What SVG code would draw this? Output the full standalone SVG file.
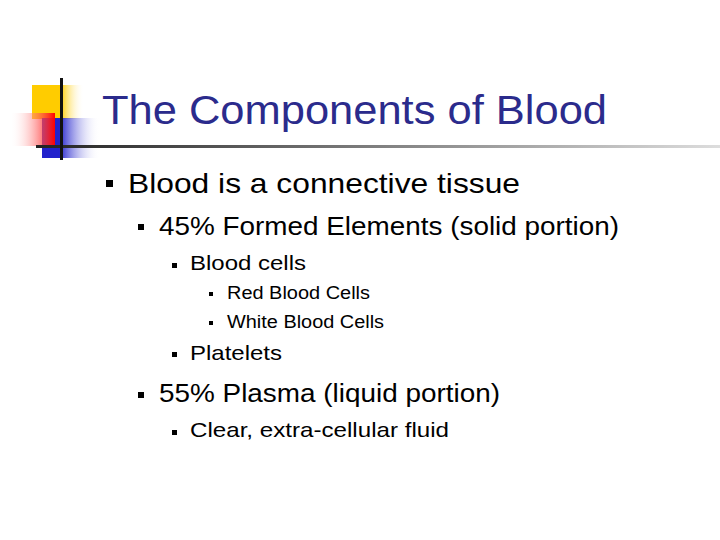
<svg xmlns="http://www.w3.org/2000/svg" width="720" height="540" viewBox="0 0 720 540">
<defs>
<linearGradient id="gy" x1="0" x2="1"><stop offset="0.55" stop-color="#ffcc00"/><stop offset="1" stop-color="#fff" stop-opacity="0"/></linearGradient>
<linearGradient id="gr" x1="0" x2="1"><stop offset="0" stop-color="#fff" stop-opacity="0"/><stop offset="1" stop-color="#ff0000"/></linearGradient>
<linearGradient id="gb" x1="0" x2="1"><stop offset="0.3" stop-color="#2222cc"/><stop offset="1" stop-color="#fff" stop-opacity="0"/></linearGradient>
<linearGradient id="gl" x1="0" x2="1"><stop offset="0" stop-color="#222"/><stop offset="1" stop-color="#ddd"/></linearGradient>
<style>
.t{font-family:"Liberation Sans",Arial,sans-serif;fill:#000}
.b{fill:#000}
</style>
</defs>
<g id="logo">
<rect x="32" y="85" width="52" height="34" fill="url(#gy)"/>
<rect x="42" y="118" width="58" height="40" fill="url(#gb)"/>
<rect x="10" y="113" width="45" height="33" fill="url(#gr)"/>
<rect x="36" y="145" width="684" height="3" fill="url(#gl)"/>
<rect x="60" y="78" width="3" height="82" fill="#111"/>
</g>
<g id="title"><text x="102" y="124" font-family="Liberation Sans,Arial,sans-serif" font-size="41" fill="#2b2b8c" textLength="505" lengthAdjust="spacingAndGlyphs">The Components of Blood</text></g>
<g id="bullets">
<rect class="b" x="106" y="180" width="7" height="7"/>
<text class="t" x="128" y="193" font-size="28" textLength="392" lengthAdjust="spacingAndGlyphs">Blood is a connective tissue</text>
<rect class="b" x="138" y="224" width="6" height="6"/>
<text class="t" x="159" y="235" font-size="25" textLength="460" lengthAdjust="spacingAndGlyphs">45% Formed Elements (solid portion)</text>
<rect class="b" x="172" y="263" width="5" height="5"/>
<text class="t" x="190" y="270" font-size="21" textLength="116" lengthAdjust="spacingAndGlyphs">Blood cells</text>
<rect class="b" x="209" y="292" width="4" height="4"/>
<text class="t" x="227" y="299" font-size="18" textLength="143" lengthAdjust="spacingAndGlyphs">Red Blood Cells</text>
<rect class="b" x="209" y="321" width="4" height="4"/>
<text class="t" x="227" y="328" font-size="18" textLength="157" lengthAdjust="spacingAndGlyphs">White Blood Cells</text>
<rect class="b" x="172" y="352" width="5" height="5"/>
<text class="t" x="190" y="360" font-size="21" textLength="92" lengthAdjust="spacingAndGlyphs">Platelets</text>
<rect class="b" x="138" y="392" width="6" height="6"/>
<text class="t" x="159" y="402" font-size="25" textLength="341" lengthAdjust="spacingAndGlyphs">55% Plasma (liquid portion)</text>
<rect class="b" x="172" y="430" width="5" height="5"/>
<text class="t" x="190" y="437" font-size="21" textLength="259" lengthAdjust="spacingAndGlyphs">Clear, extra-cellular fluid</text>
</g>
</svg>
